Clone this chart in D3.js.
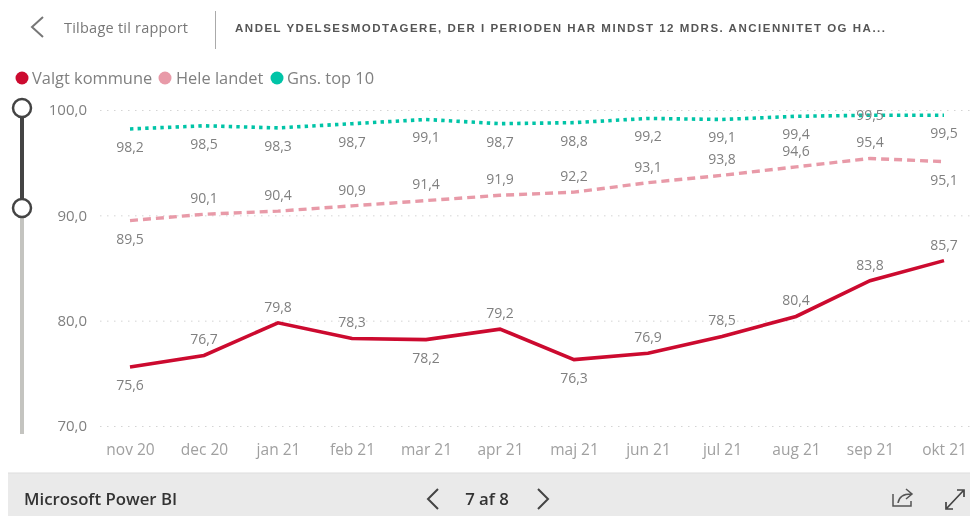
<!DOCTYPE html>
<html>
<head>
<meta charset="utf-8">
<script src="https://cdn.jsdelivr.net/npm/d3@7"></script>
<style>
  html, body { margin: 0; padding: 0; background: #fff; }
  svg { display: block; font-family: "Open Sans", "Noto Sans", sans-serif; filter: blur(0.6px); }
</style>
</head>
<body>
<div id="chart"></div>
<script>
//values
var months = ["nov 20", "dec 20", "jan 21", "feb 21", "mar 21", "apr 21", "maj 21", "jun 21", "jul 21", "aug 21", "sep 21", "okt 21"];
var valgtKommune = [75.6, 76.7, 79.8, 78.3, 78.2, 79.2, 76.3, 76.9, 78.5, 80.4, 83.8, 85.7];
var heleLandet = [89.5, 90.1, 90.4, 90.9, 91.4, 91.9, 92.2, 93.1, 93.8, 94.6, 95.4, 95.1];
var gnsTop10 = [98.2, 98.5, 98.3, 98.7, 99.1, 98.7, 98.8, 99.2, 99.1, 99.4, 99.5, 99.5];
var yTicks = [70, 80, 90, 100];
//which side of the line each data label sits: a = above, b = below, o = on the line
var valgtSides = ["b", "a", "a", "a", "b", "a", "b", "a", "a", "a", "a", "a"];
var heleSides = ["b", "a", "a", "a", "a", "a", "a", "a", "a", "a", "a", "b"];
var gnsSides = ["b", "b", "b", "b", "b", "b", "b", "b", "b", "b", "o", "b"];
var legendNames = ["Valgt kommune", "Hele landet", "Gns. top 10"];
var legendColors = ["#cc0a2f", "#e89aa8", "#00c4a7"];

var width = 970, height = 516;
var svg = d3.select("#chart").append("svg")
    .attr("width", width)
    .attr("height", height);

var da = d3.formatLocale({ decimal: ",", thousands: ".", grouping: [3], currency: ["", " kr"] });
var fmt = da.format(".1f");

//scales
var x = d3.scalePoint().domain(months).range([130, 944]);
var y = d3.scaleLinear().domain([70, 100]).range([426, 110]);

//header
var back = svg.append("g");
back.append("path")
    .attr("d", "M43,17 L32,27 L43,37")
    .attr("fill", "none")
    .attr("stroke", "#777")
    .attr("stroke-width", 2);
back.append("text")
    .attr("x", 64).attr("y", 33)
    .attr("font-size", 14.5)
    .attr("fill", "#777")
    .attr("textLength", 124)
    .text("Tilbage til rapport");
svg.append("line")
    .attr("x1", 215.5).attr("x2", 215.5)
    .attr("y1", 11).attr("y2", 49)
    .attr("stroke", "#aaa");
svg.append("text")
    .attr("x", 235).attr("y", 32)
    .attr("font-family", "'Liberation Sans', sans-serif")
    .attr("font-size", 11.5)
    .attr("font-weight", "bold")
    .attr("fill", "#555")
    .attr("textLength", 650)
    .attr("lengthAdjust", "spacing")
    .text("ANDEL YDELSESMODTAGERE, DER I PERIODEN HAR MINDST 12 MDRS. ANCIENNITET OG HA...");

//legend
var legendDot = [22, 165, 277];
var legendText = [32, 176, 287];
legendNames.forEach(function(name, i) {
    svg.append("circle")
        .attr("cx", legendDot[i]).attr("cy", 78)
        .attr("r", 6.5)
        .attr("fill", legendColors[i]);
    svg.append("text")
        .attr("x", legendText[i]).attr("y", 84)
        .attr("font-size", 16.4)
        .attr("fill", "#808080")
        .text(name);
});

//range slider on the left
svg.append("line")
    .attr("x1", 22).attr("x2", 22)
    .attr("y1", y(90) - 8).attr("y2", 434)
    .attr("stroke", "#c4c4c0")
    .attr("stroke-width", 4);
svg.append("line")
    .attr("x1", 22).attr("x2", 22)
    .attr("y1", y(100)).attr("y2", y(90) - 8)
    .attr("stroke", "#444")
    .attr("stroke-width", 4);
[108, 208].forEach(function(cy) {
    svg.append("circle")
        .attr("cx", 22).attr("cy", cy)
        .attr("r", 9)
        .attr("fill", "#fff")
        .attr("stroke", "#444")
        .attr("stroke-width", 2.5);
});

//axes
var yAxis = svg.append("g")
    .attr("transform", "translate(87,0)")
    .call(d3.axisLeft(y).tickValues(yTicks).tickSize(0).tickPadding(0).tickFormat(fmt));
yAxis.select(".domain").remove();
yAxis.selectAll("text")
    .attr("font-size", 15)
    .attr("font-family", "'Open Sans', sans-serif")
    .attr("fill", "#808080");
yAxis.selectAll(".tick").append("line")
    .attr("x1", 13).attr("x2", 883)
    .attr("stroke", "#d4d4d4")
    .attr("stroke-dasharray", "1.5,5.5");

var xAxis = svg.append("g")
    .attr("transform", "translate(0,450)")
    .call(d3.axisBottom(x).tickSize(0).tickPadding(0));
xAxis.select(".domain").remove();
xAxis.selectAll("text")
    .attr("font-size", 15.5)
    .attr("dy", ".32em")
    .attr("font-family", "'Open Sans', sans-serif")
    .attr("fill", "#a0a0a0");

//series
var line = d3.line()
    .x(function(d, i) { return x(months[i]); })
    .y(function(d) { return y(d); });

function drawSeries(values, sides, color, dash, w) {
    svg.append("path")
        .datum(values)
        .attr("d", line)
        .attr("fill", "none")
        .attr("stroke", color)
        .attr("stroke-width", w)
        .attr("stroke-dasharray", dash);
    svg.append("g").selectAll("text")
        .data(values)
        .enter()
        .append("text")
        .attr("x", function(d, i) { return x(months[i]); })
        .attr("y", function(d, i) {
            var off = sides[i] == "a" ? -16 : (sides[i] == "b" ? 18 : 0);
            return y(d) + off;
        })
        .attr("dy", ".35em")
        .attr("text-anchor", "middle")
        .attr("font-size", 14)
        .attr("fill", "#808080")
        .text(function(d) { return fmt(d); });
}
drawSeries(gnsTop10, gnsSides, legendColors[2], "3.4,4.2", 3.6);
drawSeries(heleLandet, heleSides, legendColors[1], "8,5", 3.4);
drawSeries(valgtKommune, valgtSides, legendColors[0], null, 3.6);

//footer bar
var foot = svg.append("g");
foot.append("rect")
    .attr("x", 8).attr("y", 473)
    .attr("width", 962).attr("height", 43)
    .attr("fill", "#eaeaea");
foot.append("line")
    .attr("x1", 8).attr("x2", 970)
    .attr("y1", 473).attr("y2", 473)
    .attr("stroke", "#ddd");
foot.append("text")
    .attr("x", 24).attr("y", 505)
    .attr("font-size", 16.8)
    .attr("font-weight", 600)
    .attr("fill", "#333")
    .text("Microsoft Power BI");
foot.append("path")
    .attr("d", "M438,489 L428,499 L438,509")
    .attr("fill", "none").attr("stroke", "#444").attr("stroke-width", 2);
foot.append("text")
    .attr("x", 487).attr("y", 505)
    .attr("text-anchor", "middle")
    .attr("font-size", 16.8)
    .attr("font-weight", 600)
    .attr("fill", "#333")
    .text("7 af 8");
foot.append("path")
    .attr("d", "M538,489 L548,499 L538,509")
    .attr("fill", "none").attr("stroke", "#444").attr("stroke-width", 2);
//share icon
foot.append("path")
    .attr("d", "M893,494 V506 H911 V501 M898,503 C899,496 904,494 911,494 M906,489 L912,494 L906,499")
    .attr("fill", "none").attr("stroke", "#555").attr("stroke-width", 1.5);
//expand icon
foot.append("path")
    .attr("d", "M947,508 L963,491 M957,490 H964 V497 M946,502 V509 H953")
    .attr("fill", "none").attr("stroke", "#444").attr("stroke-width", 1.7);
</script>
</body>
</html>
